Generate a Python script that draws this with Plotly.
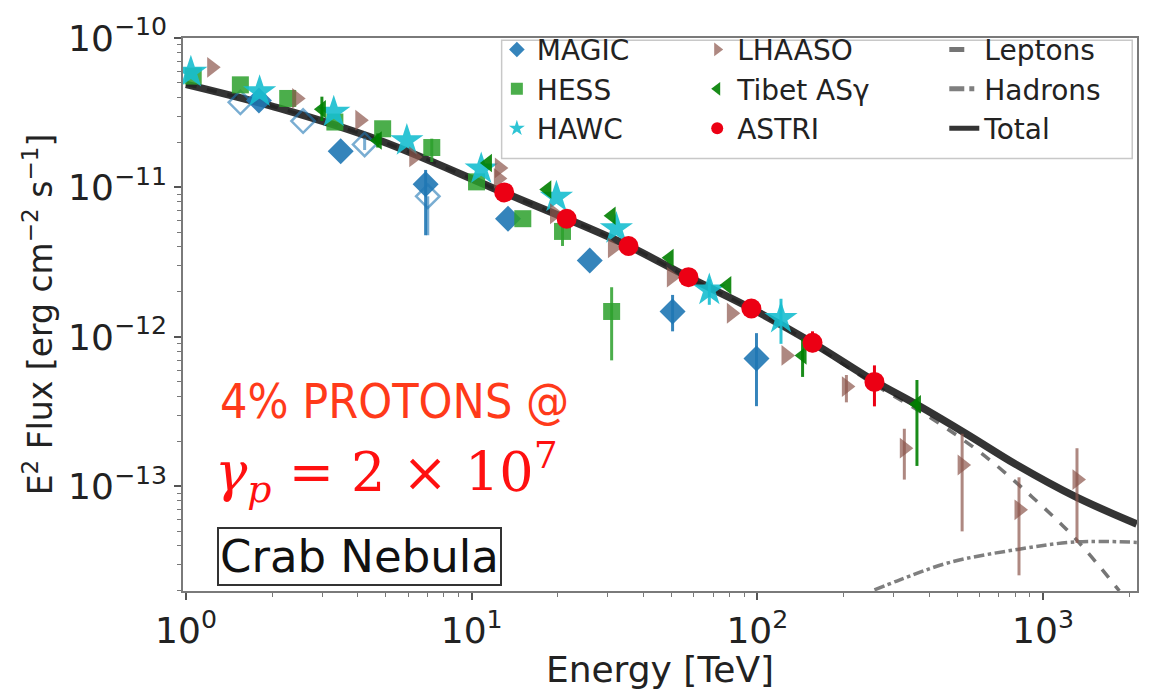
import numpy as np
import plotly.graph_objects as go

# ---------------- measurements: E [TeV], E^2 dN/dE [erg cm^-2 s^-1] ----------------
magic_E = [1.80, 3.48, 6.90, 13.4, 25.9, 50.5, 99.3]
magic_F = [3.82e-11, 1.75e-11, 1.05e-11, 6.18e-12, 3.24e-12, 1.48e-12, 7.18e-13]
magic_hi = [3.82e-11, 1.75e-11, 1.31e-11, 6.18e-12, 3.24e-12, 1.91e-12, 1.06e-12]
magic_lo = [3.82e-11, 1.75e-11, 4.79e-12, 6.18e-12, 3.24e-12, 1.09e-12, 3.44e-13]

magic2_E = [1.55, 2.57, 4.22, 7.02]
magic2_F = [3.71e-11, 2.78e-11, 1.94e-11, 8.73e-12]
magic2_hi = [3.71e-11, 2.78e-11, 2.15e-11, 8.73e-12]
magic2_lo = [3.71e-11, 2.78e-11, 1.78e-11, 4.79e-12]

hess_E = [1.06, 1.55, 2.27, 3.32, 4.88, 7.25, 10.4, 15.1, 20.8, 30.9]
hess_F = [5.56e-11, 4.86e-11, 3.94e-11, 2.74e-11, 2.47e-11, 1.85e-11, 1.09e-11, 6.18e-12, 5.08e-12, 1.48e-12]
hess_hi = [5.56e-11, 4.86e-11, 3.94e-11, 2.74e-11, 2.47e-11, 2.12e-11, 1.09e-11, 6.18e-12, 6.18e-12, 2.15e-12]
hess_lo = [5.56e-11, 4.86e-11, 3.94e-11, 2.74e-11, 2.47e-11, 1.48e-11, 1.09e-11, 6.18e-12, 4.06e-12, 6.97e-13]

hawc_E = [1.04, 1.81, 3.29, 5.93, 10.8, 19.8, 32.1, 67.9, 121]
hawc_F = [5.90e-11, 4.37e-11, 3.19e-11, 2.06e-11, 1.33e-11, 8.61e-12, 5.31e-12, 2.06e-12, 1.33e-12]
hawc_hi = [5.90e-11, 4.37e-11, 3.19e-11, 2.06e-11, 1.33e-11, 8.61e-12, 5.31e-12, 2.43e-12, 1.80e-12]
hawc_lo = [5.90e-11, 4.37e-11, 3.19e-11, 2.06e-11, 1.33e-11, 8.61e-12, 5.31e-12, 1.64e-12, 8.99e-13]

lhaaso_E = [1.23, 2.44, 4.06, 6.27, 12.5, 12.4, 19.5, 31.1, 50.0, 81.1, 126, 205, 327, 521, 824, 1315]
lhaaso_F = [6.37e-11, 3.94e-11, 2.82e-11, 1.60e-11, 1.35e-11, 1.15e-11, 6.67e-12, 3.94e-12, 2.51e-12,
            1.44e-12, 7.52e-13, 4.65e-13, 1.80e-13, 1.39e-13, 6.97e-14, 1.11e-13]
lhaaso_hi = [6.37e-11, 3.94e-11, 2.82e-11, 1.60e-11, 1.35e-11, 1.15e-11, 6.67e-12, 3.94e-12, 2.51e-12,
             1.44e-12, 7.52e-13, 5.56e-13, 2.43e-13, 2.25e-13, 1.15e-13, 1.80e-13]
lhaaso_lo = [6.37e-11, 3.94e-11, 2.82e-11, 1.60e-11, 1.35e-11, 1.15e-11, 6.67e-12, 3.94e-12, 2.51e-12,
             1.44e-12, 7.52e-13, 3.65e-13, 1.11e-13, 5.00e-14, 2.54e-14, 4.18e-14]

tibet_E = [2.99, 4.69, 11.4, 18.4, 30.9, 49.3, 78.5, 144, 362]
tibet_F = [3.34e-11, 2.06e-11, 1.46e-11, 9.70e-12, 6.46e-12, 3.38e-12, 2.22e-12, 7.52e-13, 3.54e-13]
tibet_hi = [4.05e-11, 2.30e-11, 1.46e-11, 9.70e-12, 6.46e-12, 3.38e-12, 2.22e-12, 9.70e-13, 5.15e-13]
tibet_lo = [2.78e-11, 1.85e-11, 1.46e-11, 9.70e-12, 6.46e-12, 3.38e-12, 2.22e-12, 5.40e-13, 1.37e-13]

astri_E = [13.0, 21.5, 35.4, 57.4, 95.3, 156, 257]
astri_F = [9.27e-12, 6.18e-12, 4.06e-12, 2.51e-12, 1.55e-12, 9.14e-13, 5.00e-13]
astri_hi = [9.27e-12, 6.18e-12, 4.06e-12, 2.51e-12, 1.55e-12, 1.09e-12, 6.45e-13]
astri_lo = [9.27e-12, 6.18e-12, 4.06e-12, 2.51e-12, 1.55e-12, 7.90e-13, 3.43e-13]

# ---------------- model curves ----------------
total_E = [1.0, 2.13, 4.77, 12.2, 21.5, 35.4, 57.4, 95.3, 156, 257, 360, 538, 805, 1303, 2130]
total_F = [4.90e-11, 3.38e-11, 2.06e-11, 9.70e-12, 6.18e-12, 4.06e-12, 2.51e-12, 1.55e-12, 9.14e-13,
           5.05e-13, 3.54e-13, 2.25e-13, 1.40e-13, 8.50e-14, 5.60e-14]
lep_E = [1.0, 2.13, 4.77, 12.2, 21.5, 35.4, 57.4, 95.3, 156, 257, 409, 612, 916, 1303, 1850]
lep_F = [4.90e-11, 3.38e-11, 2.06e-11, 9.70e-12, 6.18e-12, 4.06e-12, 2.50e-12, 1.54e-12, 8.95e-13,
         4.80e-13, 2.83e-13, 1.65e-13, 8.50e-14, 4.44e-14, 2.00e-14]
had_E = [257, 314, 469, 824, 1303, 2130]
had_F = [2.03e-14, 2.36e-14, 3.09e-14, 3.80e-14, 4.25e-14, 4.22e-14]

# ---------------- axis ticks ----------------
x_tickvals = [1, 10, 100, 1000]
x_ticktext = ["10<sup>0</sup>", "10<sup>1</sup>", "10<sup>2</sup>", "10<sup>3</sup>"]
y_tickvals = [1e-10, 1e-11, 1e-12, 1e-13]
y_ticktext = ["10<sup>\u221210</sup>", "10<sup>\u221211</sup>", "10<sup>\u221212</sup>", "10<sup>\u221213</sup>"]

FONT = "DejaVu Sans"
fig = go.Figure()

# model lines first so that the data points sit on top
fig.add_trace(go.Scatter(x=lep_E, y=lep_F, mode="lines", name="Leptons", legend="legend3",
                         line=dict(color="rgba(110,110,110,0.95)", width=3.5, dash="dash", shape="spline")))
fig.add_trace(go.Scatter(x=had_E, y=had_F, mode="lines", name="Hadrons", legend="legend3",
                         line=dict(color="rgba(120,120,120,0.95)", width=3.5, dash="dashdot", shape="spline")))
fig.add_trace(go.Scatter(x=total_E, y=total_F, mode="lines", name="Total", legend="legend3",
                         line=dict(color="rgba(30,30,30,0.9)", width=7.5, shape="spline")))


def errs(v, hi, lo):
    v, hi, lo = np.array(v), np.array(hi), np.array(lo)
    return (hi - v).tolist(), (v - lo).tolist()


def data_trace(E, F, hi, lo, name, legend, color, symbol, size, show=True, line_w=0):
    up, dn = errs(F, hi, lo)
    return go.Scatter(
        x=E, y=F, mode="markers", name=name, legend=legend, showlegend=show,
        marker=dict(color=color, symbol=symbol, size=size, line=dict(width=line_w, color=color)),
        error_y=dict(type="data", symmetric=False, array=up, arrayminus=dn,
                     width=0, thickness=3, color=color),
    )


fig.add_trace(data_trace(magic2_E, magic2_F, magic2_hi, magic2_lo, "MAGIC", "legend",
                         "rgba(31,119,180,0.6)", "diamond-open", 18, show=False, line_w=2.5))
fig.add_trace(data_trace(magic_E, magic_F, magic_hi, magic_lo, "MAGIC", "legend",
                         "rgba(31,119,180,0.9)", "diamond", 20))
fig.add_trace(data_trace(hess_E, hess_F, hess_hi, hess_lo, "HESS", "legend",
                         "rgba(44,160,44,0.85)", "square", 17))
fig.add_trace(data_trace(hawc_E, hawc_F, hawc_hi, hawc_lo, "HAWC", "legend",
                         "rgba(23,190,207,0.9)", "star", 25))
fig.add_trace(data_trace(lhaaso_E, lhaaso_F, lhaaso_hi, lhaaso_lo, "LHAASO", "legend2",
                         "rgba(140,86,75,0.7)", "triangle-right", 18))
fig.add_trace(data_trace(tibet_E, tibet_F, tibet_hi, tibet_lo, "Tibet AS\u03b3", "legend2",
                         "rgba(0,128,0,0.9)", "triangle-left", 16))
fig.add_trace(data_trace(astri_E, astri_F, astri_hi, astri_lo, "ASTRI", "legend2",
                         "rgb(236,0,20)", "circle", 20))

axis_common = dict(
    type="log", showgrid=False, zeroline=False,
    showline=True, linecolor="#7a7a7a", linewidth=1.5, mirror=True,
    ticks="outside", ticklen=7, tickwidth=1.5, tickcolor="#555",
    tickfont=dict(family=FONT, size=36, color="#222"),
    minor=dict(ticks="outside", ticklen=4, tickwidth=1, tickcolor="#777", dtick="D1"),
)

fig.update_xaxes(
    **axis_common,
    range=[-0.0105, 3.329],
    tickvals=x_tickvals, ticktext=x_ticktext,
    title=dict(text="Energy [TeV]", font=dict(family=FONT, size=36, color="#222"), standoff=2),
)
fig.update_yaxes(
    **axis_common,
    range=[-13.7, -10.0],
    tickvals=y_tickvals, ticktext=y_ticktext,
    title=dict(text="E<sup>2</sup> Flux [erg cm<sup>\u22122</sup> s<sup>\u22121</sup>]",
               font=dict(family=FONT, size=33, color="#222"), standoff=6),
)

legend_style = dict(
    orientation="v", yanchor="top", xanchor="left", y=1.024,
    font=dict(family=FONT, size=28, color="#222"),
    bgcolor="rgba(0,0,0,0)", borderwidth=0, tracegroupgap=0, itemsizing="constant",
)

fig.update_layout(
    width=1151, height=690,
    margin=dict(l=183, r=13, t=28, b=95),
    paper_bgcolor="white", plot_bgcolor="white",
    showlegend=True,
    legend=dict(**legend_style, x=0.329),
    legend2=dict(**legend_style, x=0.539),
    legend3=dict(**legend_style, x=0.798),
    shapes=[
        # frame around the three legend columns
        dict(type="rect", xref="paper", yref="paper", x0=0.334, x1=0.995, y0=0.782, y1=0.996,
             line=dict(color="#c8c8c8", width=1.5), fillcolor="rgba(255,255,255,0.8)", layer="below"),
    ],
    annotations=[
        dict(text="4% PROTONS @", xref="paper", yref="paper", x=0.037, y=0.344,
             xanchor="left", yanchor="middle", showarrow=False,
             font=dict(family="Liberation Sans Narrow, DejaVu Sans Condensed, Roboto Condensed, Roboto",
                       size=48, color="#ff3a1a", weight=300)),
        dict(text="<i>\u03b3<sub>p</sub></i> = 2 \u00d7 10<sup>7</sup>", xref="paper", yref="paper",
             x=0.031, y=0.215, xanchor="left", yanchor="middle", showarrow=False,
             font=dict(family="DejaVu Serif, Liberation Serif", size=54, color="#ff1010")),
        dict(text="Crab Nebula", xref="paper", yref="paper", x=0.036, y=0.009,
             xanchor="left", yanchor="bottom", showarrow=False,
             font=dict(family=FONT, size=45, color="#111"),
             bgcolor="white", bordercolor="#333", borderwidth=2, borderpad=1),
    ],
)

fig.write_html("out.html")
